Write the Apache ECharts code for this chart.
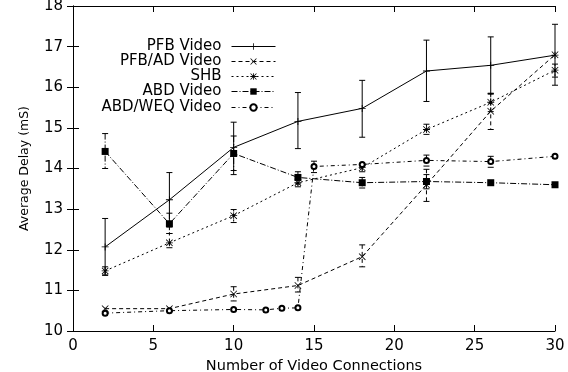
<!DOCTYPE html>
<html>
<head>
<meta charset="utf-8">
<script src="https://cdn.jsdelivr.net/npm/echarts@6/dist/echarts.min.js"></script>
<style>
  html, body { margin: 0; padding: 0; background: #fff; }
  #chart { width: 568px; height: 372px; }
</style>
</head>
<body>
<div id="chart"></div>
<script>
// Number of video connections at which each scheme was measured
const xMain = [2, 6, 10, 14, 18, 22, 26, 30];
const xWeq = [2, 6, 10, 12, 13, 14, 15, 18, 22, 26, 30];

// Average delay (mS) with confidence bounds; null = no bar drawn
const pfbMean = [12.07, 13.23, 14.52, 15.16, 15.48, 16.40, 16.54, 16.79];
const pfbLow  = [11.37, 12.56, 13.85, 14.49, 14.77, 15.65, 15.83, 16.05];
const pfbHigh = [12.77, 13.90, 15.14, 15.87, 16.17, 17.16, 17.24, 17.55];

const pfbAdMean = [10.55, 10.55, 10.91, 11.12, 11.83, 13.60, 15.41, 16.80];
const pfbAdLow  = [null, null, 10.74, 10.96, 11.58, 13.19, 14.96, null];
const pfbAdHigh = [null, null, 11.09, 11.32, 12.12, 13.98, 15.85, null];

const shbMean = [11.48, 12.17, 12.84, 13.65, 14.02, 14.96, 15.63, 16.42];
const shbLow  = [11.38, 12.05, 12.67, 13.55, 13.92, 14.84, 15.40, 16.25];
const shbHigh = [11.58, 12.40, 12.99, 13.75, 14.12, 15.09, 15.85, 16.57];

const abdMean = [14.42, 12.64, 14.37, 13.78, 13.65, 13.68, 13.65, 13.60];
const abdLow  = [14.00, 12.40, 13.95, 13.62, 13.52, 13.50, null, null];
const abdHigh = [14.86, 12.90, 14.80, 13.92, 13.78, 13.85, null, null];

const weqMean = [10.44, 10.50, 10.53, 10.52, 10.56, 10.57, 14.05, 14.10, 14.20, 14.17, 14.30];
const weqLow  = [null, null, null, null, null, null, 13.90, null, 14.06, 14.03, null];
const weqHigh = [null, null, null, null, null, null, 14.18, null, 14.33, 14.30, null];

const seriesNames = ['PFB Video', 'PFB/AD Video', 'SHB', 'ABD Video', 'ABD/WEQ Video'];

const FONT = 'DejaVu Sans';

// Point glyphs
const PLUS = 'path://M4.4,0H5.6V4.4H10V5.6H5.6V10H4.4V5.6H0V4.4H4.4Z';
const CROSS = 'path://M0.8,0L5,4.2L9.2,0L10,0.8L5.8,5L10,9.2L9.2,10L5,5.8L0.8,10L0,9.2L4.2,5L0,0.8Z';
const STAR = PLUS + ' ' + CROSS.replace('path://', '');

const zip = (xs, ys) => xs.map((x, i) => [x, ys[i]]);
const zipBars = (xs, lo, hi) => xs
  .map((x, i) => [x, lo[i], hi[i]])
  .filter(d => d[1] !== null && d[2] !== null);

// Vertical bar with short caps between the low and high bound
function errorBars(dash) {
  return function (params, api) {
    const x = api.value(0);
    const top = api.coord([x, api.value(2)]);
    const bot = api.coord([x, api.value(1)]);
    const cap = 3;
    const style = { stroke: '#000', lineWidth: 1, lineDash: dash, fill: null };
    const capStyle = { stroke: '#000', lineWidth: 1, fill: null };
    return {
      type: 'group',
      children: [
        { type: 'line', shape: { x1: top[0], y1: top[1], x2: bot[0], y2: bot[1] }, style },
        { type: 'line', shape: { x1: top[0] - cap, y1: top[1], x2: top[0] + cap, y2: top[1] }, style: capStyle },
        { type: 'line', shape: { x1: bot[0] - cap, y1: bot[1], x2: bot[0] + cap, y2: bot[1] }, style: capStyle }
      ]
    };
  };
}

const styles = [
  { symbol: PLUS,          size: 7, dash: 'solid' },
  { symbol: CROSS,         size: 7, dash: [4, 3] },
  { symbol: STAR,          size: 7, dash: [2, 3] },
  { symbol: 'rect',        size: 7, dash: [6, 2, 1, 2] },
  { symbol: 'emptyCircle', size: 5, dash: [4, 3, 1, 3] }
];

const lineData = [
  zip(xMain, pfbMean), zip(xMain, pfbAdMean), zip(xMain, shbMean),
  zip(xMain, abdMean), zip(xWeq, weqMean)
];
const barData = [
  zipBars(xMain, pfbLow, pfbHigh), zipBars(xMain, pfbAdLow, pfbAdHigh),
  zipBars(xMain, shbLow, shbHigh), zipBars(xMain, abdLow, abdHigh),
  zipBars(xWeq, weqLow, weqHigh)
];

const series = [];
seriesNames.forEach((name, i) => {
  const s = styles[i];
  series.push({
    type: 'custom',
    name: name + ' bars',
    renderItem: errorBars(s.dash === 'solid' ? null : s.dash),
    data: barData[i],
    encode: { x: 0, y: [1, 2] },
    silent: true,
    z: 1
  });
  series.push({
    type: 'line',
    name: name,
    data: lineData[i],
    symbol: s.symbol,
    symbolSize: s.size,
    showSymbol: true,
    showAllSymbol: true,
    itemStyle: { color: '#000', borderColor: '#000', borderWidth: s.symbol === 'emptyCircle' ? 1 : 0 },
    lineStyle: { color: '#000', width: 1, type: s.dash },
    z: 2
  });
});

// Legend: one block per entry so the samples line up on the right edge
const legendCenters = [47, 62, 77, 92, 108];
const legends = seriesNames.map((name, i) => ({
  data: [name],
  orient: 'vertical',
  right: 292,
  top: legendCenters[i] - 8,
  align: 'right',
  padding: 0,
  itemWidth: 44,
  itemHeight: 8,
  selectedMode: false,
  lineStyle: { width: 1 },
  textStyle: { fontFamily: FONT, fontSize: 15, color: '#000', padding: [0, 5, 0, 0] }
}));

const axisCommon = {
  axisLine: { show: true, lineStyle: { color: '#000', width: 1 } },
  axisTick: { show: true, inside: true, length: 6, lineStyle: { color: '#000', width: 1 } },
  splitLine: { show: false }
};

const option = {
  animation: false,
  backgroundColor: '#fff',
  grid: { left: 73, right: 13, top: 6, bottom: 41, containLabel: false, outerBoundsMode: 'none' },
  legend: legends,
  xAxis: [
    Object.assign({
      type: 'value', min: 0, max: 30, interval: 5, position: 'bottom',
      axisLabel: { fontFamily: FONT, fontSize: 15, color: '#000', margin: 8 },
      name: 'Number of Video Connections',
      nameLocation: 'middle',
      nameGap: 24,
      nameTextStyle: { fontFamily: FONT, fontSize: 14.5, color: '#000' }
    }, axisCommon),
    Object.assign({
      type: 'value', min: 0, max: 30, interval: 5, position: 'top',
      axisLabel: { show: false }
    }, axisCommon)
  ],
  yAxis: [
    Object.assign({
      type: 'value', min: 10, max: 18, interval: 1, position: 'left',
      axisLabel: { fontFamily: FONT, fontSize: 15, color: '#000', margin: 10 },
      name: 'Average Delay (mS)',
      nameLocation: 'middle',
      nameGap: 42,
      nameTextStyle: { fontFamily: FONT, fontSize: 12.5, color: '#000' }
    }, axisCommon),
    Object.assign({
      type: 'value', min: 10, max: 18, interval: 1, position: 'right',
      axisLabel: { show: false }
    }, axisCommon)
  ],
  series: series
};

const chart = echarts.init(document.getElementById('chart'), null, { renderer: 'canvas' });
chart.setOption(option);
</script>
</body>
</html>
